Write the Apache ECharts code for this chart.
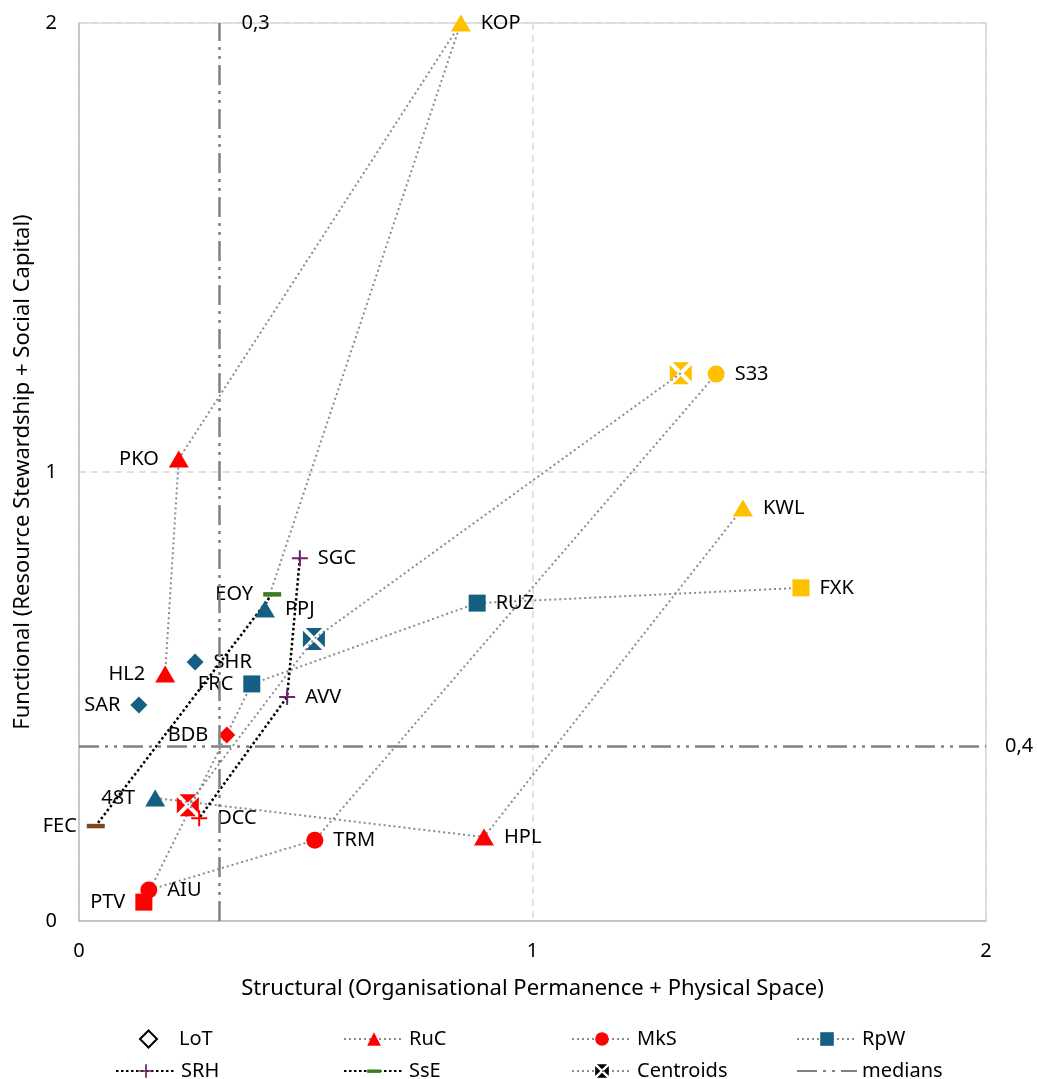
<!DOCTYPE html>
<html>
<head>
<meta charset="utf-8">
<script src="https://cdn.jsdelivr.net/npm/echarts@6/dist/echarts.min.js"></script>
<style>
  html, body { margin: 0; padding: 0; background: #fff; }
  #chart { width: 1037px; height: 1079px; }
</style>
</head>
<body>
<div id="chart"></div>
<script>
// points of each type, listed in the order the dotted line joins them (null = break in the line)
const lotNames = ['SHR', 'SAR', 'BDB'];
const lotX = [0.256, 0.132, 0.326];
const lotY = [0.577, 0.481, 0.414];
const lotGroup = ['B', 'B', 'C'];

const rucNames = ['HL2', 'PKO', 'KOP', 'PPJ', null, '48T', 'HPL', 'KWL'];
const rucX = [0.190, 0.220, 0.842, 0.410, null, 0.168, 0.893, 1.464];
const rucY = [0.550, 1.029, 2.000, 0.695, null, 0.274, 0.187, 0.920];
const rucGroup = ['C', 'C', 'A', 'B', null, 'B', 'C', 'A'];

const mksNames = ['S33', 'TRM', 'AIU'];
const mksX = [1.405, 0.520, 0.154];
const mksY = [1.218, 0.180, 0.069];
const mksGroup = ['A', 'C', 'C'];

const rpwNames = ['FXK', 'RUZ', 'FRC', 'PTV'];
const rpwX = [1.592, 0.878, 0.381, 0.143];
const rpwY = [0.742, 0.708, 0.528, 0.042];
const rpwGroup = ['A', 'B', 'B', 'C'];

const srhNames = ['SGC', 'AVV', 'DCC'];
const srhX = [0.487, 0.459, 0.265];
const srhY = [0.808, 0.499, 0.229];
const srhGroup = ['D', 'D', 'C'];

const sseNames = ['EOY', 'FEC'];
const sseX = [0.426, 0.037];
const sseY = [0.728, 0.212];
const sseGroup = ['E', 'F'];

const centroidX = [1.327, 0.518, 0.240];
const centroidY = [1.220, 0.628, 0.258];
const centroidGroup = ['A', 'B', 'C'];

const medianX = 0.313;
const medianY = 0.39;
const medianLabels = ['0,3', '0,4'];

// styling
const groupColor = { A: '#FFC000', B: '#156082', C: '#FF0000', D: '#6B2469', E: '#3B7D23', F: '#7A4A1C' };
const leftLabels = ['PKO', 'HL2', 'SAR', 'FRC', 'EOY', 'BDB', '48T', 'FEC', 'PTV'];
const font = 'Noto Sans';
const grayDots = { color: '#8c8c8c', width: 2, type: [2, 3] };
const blackDots = { color: '#000', width: 2.5, type: [2.5, 2.5] };
const medianStyle = { color: '#808080', width: 2.5, type: [20, 6, 3, 6, 3, 6] };
const plusPath = 'path://M7,0h2v7h7v2h-7v7h-2v-7h-7v-2h7z';
// flat bar inside a square box (zero-length moves keep the box square)
const dashPath = 'path://M0,0L0,0 M18,18L18,18 M0,7h18v4.5h-18z';
const centroidPath = 'path://M2.5,0L17.5,0L10,7.5Z M20,2.5L20,17.5L12.5,10Z M2.5,20L17.5,20L10,12.5Z M0,2.5L0,17.5L7.5,10Z';

function pts(names, xs, ys, groups) {
  return names.map(function (n, i) {
    if (n === null) return [null, null];
    return {
      name: n,
      value: [xs[i], ys[i]],
      itemStyle: { color: groupColor[groups[i]], borderWidth: 0, opacity: 1 },
      label: { position: leftLabels.indexOf(n) >= 0 ? 'left' : 'right' }
    };
  });
}

const pointLabel = { show: true, formatter: '{b}', fontSize: 20, color: '#000', fontFamily: font, distance: 10, opacity: 1 };

function lineSeries(name, data, symbol, size, lineStyle, color) {
  return {
    name: name, type: 'line', data: data,
    symbol: symbol, symbolSize: size, showAllSymbol: true,
    lineStyle: lineStyle, itemStyle: { color: color },
    label: pointLabel, animation: false, z: 3
  };
}

const chartDom = document.getElementById('chart');
const myChart = echarts.init(chartDom, null, { renderer: 'canvas' });

const centroidData = centroidX.map(function (x, i) {
  return { name: '', value: [x, centroidY[i]], itemStyle: { color: groupColor[centroidGroup[i]] } };
});

function legendAt(name, left, top, extra) {
  const lg = {
    data: [name], left: left, top: top, itemWidth: 60, itemHeight: 17,
    textStyle: { fontSize: 20, color: '#000', fontFamily: font },
    selectedMode: false
  };
  return Object.assign(lg, extra || {});
}

const option = {
  backgroundColor: '#fff',
  animation: false,
  grid: { left: 79, right: 51, top: 23, bottom: 158, show: true, borderColor: '#d9d9d9', borderWidth: 1.5 },
  xAxis: {
    type: 'value', min: 0, max: 2, interval: 1,
    name: 'Structural (Organisational Permanence + Physical Space)',
    nameLocation: 'middle', nameGap: 57,
    nameTextStyle: { fontSize: 22, color: '#000', fontFamily: font },
    axisLine: { show: true, lineStyle: { color: '#bfbfbf', width: 1.5 } },
    axisTick: { show: false },
    axisLabel: { fontSize: 20, color: '#000', fontFamily: font, margin: 20 },
    splitLine: { show: true, lineStyle: { color: '#d9d9d9', width: 1.5, type: [7, 5] } }
  },
  yAxis: {
    type: 'value', min: 0, max: 2, interval: 1,
    name: 'Functional (Resource Stewardship + Social Capital)',
    nameLocation: 'middle', nameGap: 45,
    nameTextStyle: { fontSize: 22, color: '#000', fontFamily: font },
    axisLine: { show: true, lineStyle: { color: '#bfbfbf', width: 1.5 } },
    axisTick: { show: false },
    axisLabel: { fontSize: 20, color: '#000', fontFamily: font, margin: 22 },
    splitLine: { show: true, lineStyle: { color: '#d9d9d9', width: 1.5, type: [7, 5] } }
  },
  legend: [
    legendAt('LoT', 134, 1024, { itemWidth: 17, textStyle: { fontSize: 20, color: '#000', fontFamily: font, padding: [0, 0, 0, 17] } }),
    legendAt('RuC', 338, 1024),
    legendAt('MkS', 566, 1024),
    legendAt('RpW', 791, 1024),
    legendAt('SRH', 110, 1056),
    legendAt('SsE', 338, 1056),
    legendAt('Centroids', 566, 1056),
    legendAt('medians', 791, 1056)
  ],
  series: [
    {
      name: 'medians', type: 'line', data: [[null, null]], symbol: 'none',
      lineStyle: medianStyle, itemStyle: { color: 'rgba(0,0,0,0)' }, z: 1,
      markLine: {
        silent: true, symbol: 'none', animation: false,
        lineStyle: medianStyle,
        label: { fontSize: 20, color: '#000', fontFamily: font },
        data: [
          { xAxis: medianX, label: { formatter: medianLabels[0], position: 'end', offset: [36, 15] } },
          { yAxis: medianY, label: { formatter: medianLabels[1], position: 'end', distance: 19 } }
        ]
      }
    },
    {
      name: 'LoT', type: 'scatter', data: pts(lotNames, lotX, lotY, lotGroup),
      symbol: 'diamond', symbolSize: 17,
      itemStyle: { color: '#fff', borderColor: '#000', borderWidth: 1.5, opacity: 1 },
      label: pointLabel, z: 4
    },
    lineSeries('Centroids', centroidData, centroidPath, 22, grayDots, '#000'),
    lineSeries('RuC', pts(rucNames, rucX, rucY, rucGroup), 'triangle', [20, 17], grayDots, '#FF0000'),
    lineSeries('MkS', pts(mksNames, mksX, mksY, mksGroup), 'circle', 17, grayDots, '#FF0000'),
    lineSeries('RpW', pts(rpwNames, rpwX, rpwY, rpwGroup), 'rect', 17, grayDots, '#156082'),
    lineSeries('SRH', pts(srhNames, srhX, srhY, srhGroup), plusPath, 16, blackDots, '#6B2469'),
    lineSeries('SsE', pts(sseNames, sseX, sseY, sseGroup), dashPath, 18, blackDots, '#3B7D23')
  ]
};

option && myChart.setOption(option);
</script>
</body>
</html>
